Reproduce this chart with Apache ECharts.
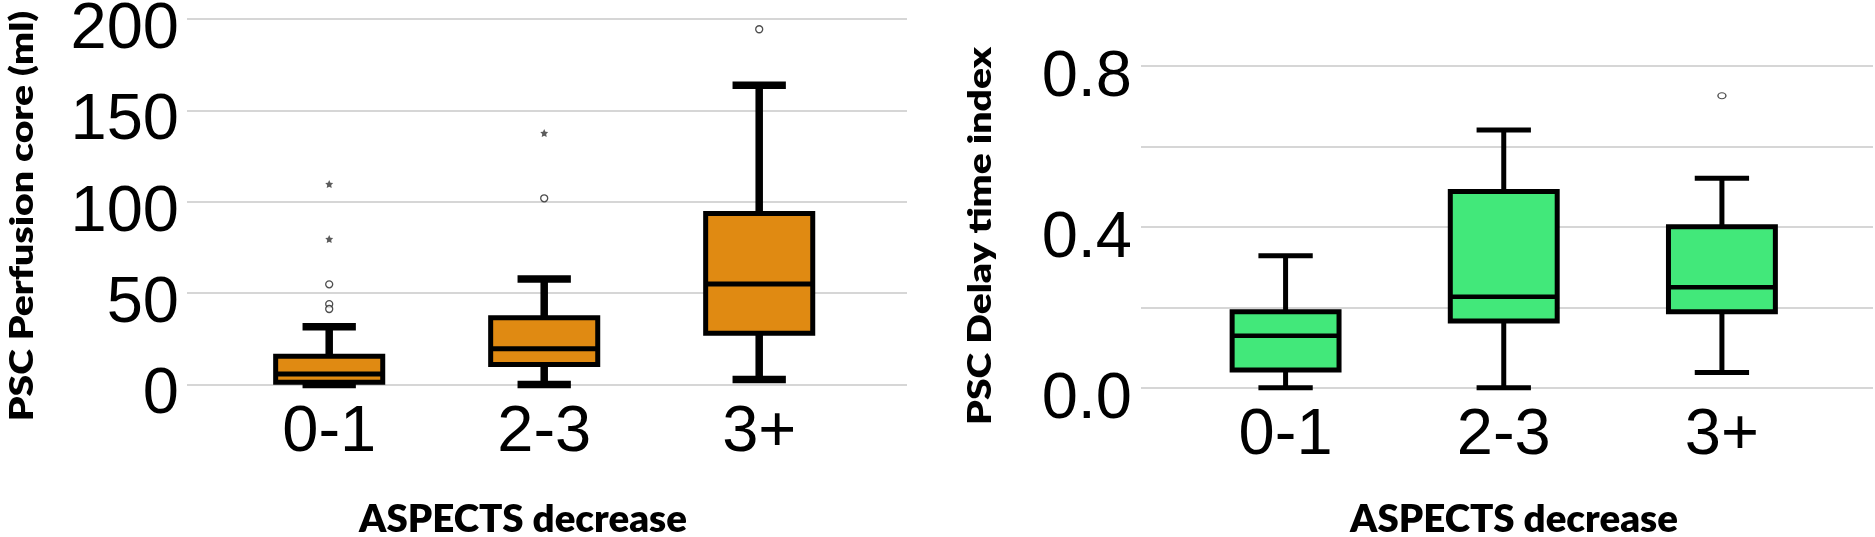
<!DOCTYPE html>
<html>
<head>
<meta charset="utf-8">
<script src="https://cdn.jsdelivr.net/npm/echarts@6/dist/echarts.min.js"></script>
<style>
html,body{margin:0;padding:0;background:#fff;}
#chart{width:1875px;height:537px;}
</style>
</head>
<body>
<div id="chart"></div>
<script>
// ---- data ----
const categories = ['0-1', '2-3', '3+'];

// PSC Perfusion core (ml)
const coreMin    = [0,    0,    2.8];
const coreQ1     = [1.2,  11,   28];
const coreMedian = [5.7,  19.6, 55];
const coreQ3     = [15.5, 36.5, 93.6];
const coreMax    = [31.6, 57.7, 163.8];
const coreOutlierCircles = [['0-1', 54.8], ['0-1', 44], ['0-1', 41.3], ['2-3', 101.9], ['3+', 194.4]];
const coreOutlierStars   = [['0-1', 109.7], ['0-1', 79.6], ['2-3', 137.6]];
const coreTicks = [0, 50, 100, 150, 200];

// PSC Delay time index
const delayMin    = [0,     0,     0.038];
const delayQ1     = [0.044, 0.166, 0.189];
const delayMedian = [0.129, 0.226, 0.25];
const delayQ3     = [0.189, 0.488, 0.40];
const delayMax    = [0.328, 0.641, 0.521];
const delayOutlierCircles = [['3+', 0.726]];
const delayTicks = [0, 0.2, 0.4, 0.6, 0.8];
const delayTickLabels = ['0.0', '0.4', '0.8'];

const coreTitle = 'PSC Perfusion core (ml)';
const delayTitle = 'PSC Delay time index';
const xTitle = 'ASPECTS decrease';

// ---- build ----
function boxData(mn, q1, md, q3, mx) {
  return categories.map((c, i) => [i, mn[i], q1[i], md[i], q3[i], mx[i]]);
}

function makeRender(fill, boxRatio, capRatio, boxLW, medLW, whiskLW) {
  return function (params, api) {
    const i = api.value(0);
    const pMin = api.coord([i, api.value(1)]);
    const pQ1 = api.coord([i, api.value(2)]);
    const pMed = api.coord([i, api.value(3)]);
    const pQ3 = api.coord([i, api.value(4)]);
    const pMax = api.coord([i, api.value(5)]);
    const band = api.size([1, 0])[0];
    const bw = band * boxRatio, cw = band * capRatio;
    const cx = pMed[0];
    const lineStyle = { stroke: '#000', lineWidth: whiskLW, lineCap: 'butt' };
    return {
      type: 'group',
      children: [
        { type: 'line', shape: { x1: cx, y1: pMax[1], x2: cx, y2: pMin[1] }, style: lineStyle },
        { type: 'line', shape: { x1: cx - cw / 2, y1: pMax[1], x2: cx + cw / 2, y2: pMax[1] }, style: lineStyle },
        { type: 'line', shape: { x1: cx - cw / 2, y1: pMin[1], x2: cx + cw / 2, y2: pMin[1] }, style: lineStyle },
        { type: 'rect', shape: { x: cx - bw / 2, y: pQ3[1], width: bw, height: pQ1[1] - pQ3[1] },
          style: { fill: fill, stroke: '#000', lineWidth: boxLW, lineJoin: 'miter' } },
        { type: 'line', shape: { x1: cx - bw / 2, y1: pMed[1], x2: cx + bw / 2, y2: pMed[1] },
          style: { stroke: '#000', lineWidth: medLW } }
      ]
    };
  };
}

const starPath = 'path://M0,-10L2.9,-4L9.5,-3.1L4.7,1.5L5.9,8.1L0,5L-5.9,8.1L-4.7,1.5L-9.5,-3.1L-2.9,-4Z';
const numFont = { fontFamily: 'Liberation Sans', fontSize: 65, color: '#000' };

const option = {
  animation: false,
  backgroundColor: '#fff',
  grid: [
    { left: 221.7, top: 19, width: 645, height: 365.5, outerBoundsMode: 'none', containLabel: false },
    { left: 187, top: 19, width: 720, height: 365.5, outerBoundsMode: 'none', containLabel: false },
    { left: 1176.5, top: 66, width: 654.5, height: 321.7, outerBoundsMode: 'none', containLabel: false },
    { left: 1141, top: 66, width: 732, height: 321.7, outerBoundsMode: 'none', containLabel: false }
  ],
  xAxis: [
    { gridIndex: 0, type: 'category', data: categories, boundaryGap: true,
      axisLine: { show: false }, axisTick: { show: false }, splitLine: { show: false },
      axisLabel: Object.assign({ margin: 16, lineHeight: 65 }, numFont) },
    { gridIndex: 1, type: 'value', show: false, min: 0, max: 1 },
    { gridIndex: 2, type: 'category', data: categories, boundaryGap: true,
      axisLine: { show: false }, axisTick: { show: false }, splitLine: { show: false },
      axisLabel: Object.assign({ margin: 16, lineHeight: 65 }, numFont) },
    { gridIndex: 3, type: 'value', show: false, min: 0, max: 1 }
  ],
  yAxis: [
    { gridIndex: 0, type: 'value', min: coreTicks[0], max: coreTicks[coreTicks.length - 1], interval: 50, show: false },
    { gridIndex: 1, type: 'value', min: coreTicks[0], max: coreTicks[coreTicks.length - 1], interval: 50,
      axisLine: { show: false }, axisTick: { show: false },
      splitLine: { show: true, lineStyle: { color: '#d6d6d6', width: 2 } },
      axisLabel: Object.assign({ margin: 8, verticalAlign: 'top', lineHeight: 22 }, numFont) },
    { gridIndex: 2, type: 'value', min: delayTicks[0], max: delayTicks[delayTicks.length - 1], interval: 0.2, show: false },
    { gridIndex: 3, type: 'value', min: delayTicks[0], max: delayTicks[delayTicks.length - 1], interval: 0.2,
      axisLine: { show: false }, axisTick: { show: false },
      splitLine: { show: true, lineStyle: { color: '#d6d6d6', width: 2 } },
      axisLabel: Object.assign({ margin: 9, verticalAlign: 'top', lineHeight: 24,
        formatter: v => { const s = Number(v).toFixed(1); return delayTickLabels.includes(s) ? s : ''; } }, numFont) }
  ],
  series: [
    { type: 'custom', xAxisIndex: 0, yAxisIndex: 0, clip: false,
      data: boxData(coreMin, coreQ1, coreMedian, coreQ3, coreMax),
      encode: { x: 0, y: [1, 2, 3, 4, 5] },
      renderItem: makeRender('#E08A12', 0.498, 0.248, 5, 5, 7.5) },
    { type: 'scatter', xAxisIndex: 0, yAxisIndex: 0, data: coreOutlierCircles,
      symbol: 'circle', symbolSize: 7, itemStyle: { color: '#fff', borderColor: '#222', borderWidth: 1.3 }, z: 5 },
    { type: 'scatter', xAxisIndex: 0, yAxisIndex: 0, data: coreOutlierStars,
      symbol: starPath, symbolSize: 8, itemStyle: { color: '#333' }, z: 5 },
    { type: 'custom', xAxisIndex: 2, yAxisIndex: 2, clip: false,
      data: boxData(delayMin, delayQ1, delayMedian, delayQ3, delayMax),
      encode: { x: 0, y: [1, 2, 3, 4, 5] },
      renderItem: makeRender('#42E87A', 0.49, 0.249, 5, 4.5, 5) },
    { type: 'scatter', xAxisIndex: 2, yAxisIndex: 2, data: delayOutlierCircles,
      symbol: 'circle', symbolSize: [8, 6], itemStyle: { color: '#fff', borderColor: '#222', borderWidth: 1.2 }, z: 5 }
  ],
  graphic: [
    { type: 'text', x: 23, y: 216, rotation: Math.PI / 2, scaleX: 1.22,
      style: { text: coreTitle, font: '800 32px Lato', fill: '#000', align: 'center', verticalAlign: 'middle' } },
    { type: 'text', x: 981, y: 236, rotation: Math.PI / 2, scaleX: 1.22,
      style: { text: delayTitle, font: '800 32px Lato', fill: '#000', align: 'center', verticalAlign: 'middle' } },
    { type: 'text', x: 523, y: 520, scaleX: 1.04,
      style: { text: xTitle, font: '800 37px Lato', fill: '#000', align: 'center', verticalAlign: 'middle' } },
    { type: 'text', x: 1514, y: 520, scaleX: 1.04,
      style: { text: xTitle, font: '800 37px Lato', fill: '#000', align: 'center', verticalAlign: 'middle' } }
  ]
};

const chart = echarts.init(document.getElementById('chart'), null, { renderer: 'canvas' });
chart.setOption(option);
</script>
</body>
</html>
